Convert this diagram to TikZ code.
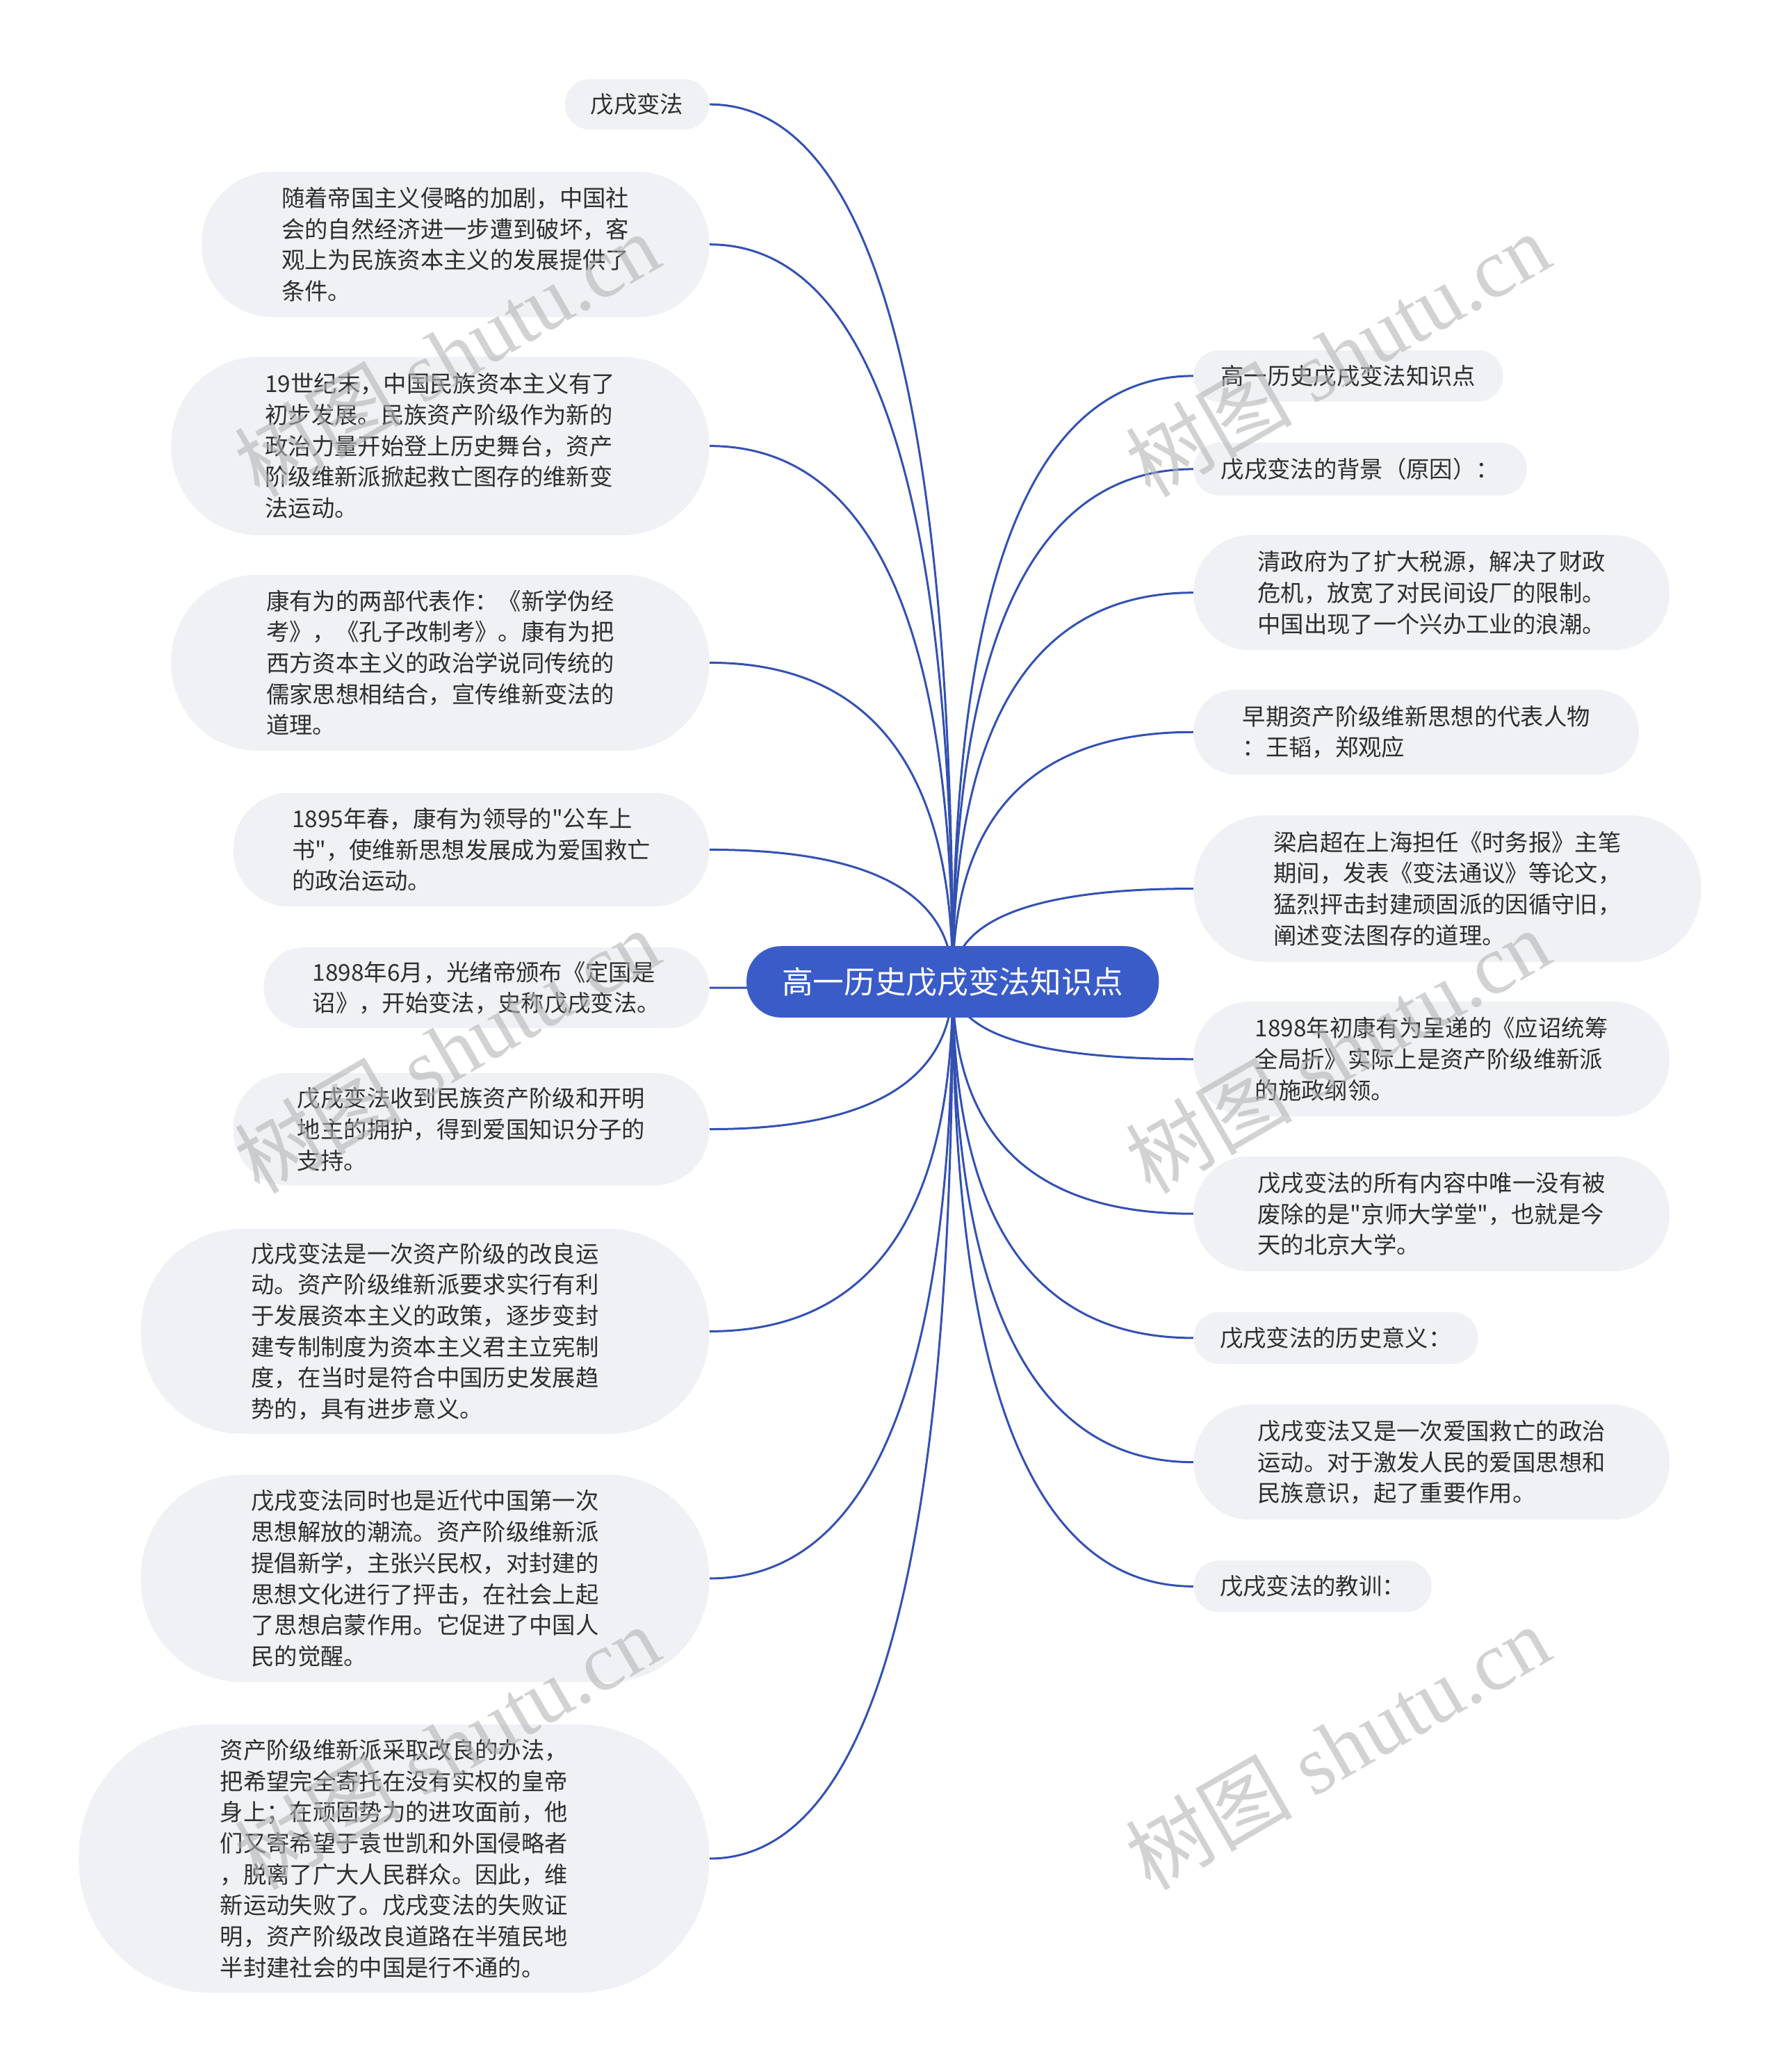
\documentclass[tikz,border=0pt]{standalone}
\usepackage{fontspec}
\newfontfamily\cjk{Noto Sans CJK SC}[Ligatures=TeXOff]
\newfontfamily\wmlat{Liberation Serif}
\usetikzlibrary{calc,backgrounds}
\definecolor{linkc}{HTML}{3451B2}
\definecolor{centc}{HTML}{3A5CC8}
\definecolor{nodebg}{HTML}{EFF1F4}
\definecolor{txtc}{HTML}{2E2E2E}
\definecolor{wmc}{HTML}{B4B4B4}
\def\myu{0.5702pt}
\tikzset{
  subnode/.style={fill=nodebg, text=txtc, inner sep=0pt, align=left,
    font=\cjk\fontsize{10pt}{13.4pt}\selectfont},
  centnode/.style={fill=centc, text=white, inner sep=0pt,
    font=\cjk\fontsize{13.4pt}{16pt}\selectfont},
  link/.style={draw=linkc, line width=0.9pt},
  wmark/.style={text=wmc, opacity=0.6, rotate=30, inner sep=0pt,
    font=\wmlat\fontsize{36pt}{36pt}\selectfont}
}
\newcommand\lnode[5]{\node[subnode, anchor=east,
  minimum width={(537-#2)*\myu}, minimum height={(#4-#3)*\myu},
  rounded corners={0.49*(#4-#3)*\myu}] (#1) at (537,{(#3+#4)/2}) {#5};}
\newcommand\rnode[5]{\node[subnode, anchor=west,
  minimum width={(#2-903)*\myu}, minimum height={(#4-#3)*\myu},
  rounded corners={0.49*(#4-#3)*\myu}] (#1) at (903,{(#3+#4)/2}) {#5};}
\newcommand\conn[1]{\draw[link] (C.center) .. controls ($(C.center)!0.6667!(C.center|-#1)$) and ($(#1)!0.6667!(C.center|-#1)$) .. (#1);}
\begin{document}
\begin{tikzpicture}[x=0.5702pt,y=-0.5702pt]
\useasboundingbox (0,0) rectangle (1347,1568);

\node[centnode, minimum width={312*\myu}, minimum height={54*\myu}, rounded corners={26*\myu}] (C) at (721,743) {高一历史戊戌变法知识点};

% left nodes
\lnode{L1}{428}{60}{98}{戊戌变法}
\lnode{L2}{153}{130}{240}{随着帝国主义侵略的加剧，中国社\\会的自然经济进一步遭到破坏，客\\观上为民族资本主义的发展提供了\\条件。}
\lnode{L3}{130}{270}{405}{19世纪末，中国民族资本主义有了\\初步发展。民族资产阶级作为新的\\政治力量开始登上历史舞台，资产\\阶级维新派掀起救亡图存的维新变\\法运动。}
\lnode{L4}{130}{435}{568}{康有为的两部代表作：《新学伪经\\考》，《孔子改制考》。康有为把\\西方资本主义的政治学说同传统的\\儒家思想相结合，宣传维新变法的\\道理。}
\lnode{L5}{177}{600}{686}{1895年春，康有为领导的"公车上\\书"，使维新思想发展成为爱国救亡\\的政治运动。}
\lnode{L6}{200}{717}{778}{1898年6月，光绪帝颁布《定国是\\诏》，开始变法，史称戊戌变法。}
\lnode{L7}{177}{812}{897}{戊戌变法收到民族资产阶级和开明\\地主的拥护，得到爱国知识分子的\\支持。}
\lnode{L8}{107}{930}{1085}{戊戌变法是一次资产阶级的改良运\\动。资产阶级维新派要求实行有利\\于发展资本主义的政策，逐步变封\\建专制制度为资本主义君主立宪制\\度，在当时是符合中国历史发展趋\\势的，具有进步意义。}
\lnode{L9}{107}{1116}{1273}{戊戌变法同时也是近代中国第一次\\思想解放的潮流。资产阶级维新派\\提倡新学，主张兴民权，对封建的\\思想文化进行了抨击，在社会上起\\了思想启蒙作用。它促进了中国人\\民的觉醒。}
\lnode{L10}{60}{1305}{1508}{资产阶级维新派采取改良的办法，\\把希望完全寄托在没有实权的皇帝\\身上；在顽固势力的进攻面前，他\\们又寄希望于袁世凯和外国侵略者\\，脱离了广大人民群众。因此，维\\新运动失败了。戊戌变法的失败证\\明，资产阶级改良道路在半殖民地\\半封建社会的中国是行不通的。}

% right nodes
\rnode{R1}{1137}{265}{304}{高一历史戊戌变法知识点}
\rnode{R2}{1155}{335}{375}{戊戌变法的背景（原因）：}
\rnode{R3}{1263}{405}{492}{清政府为了扩大税源，解决了财政\\危机，放宽了对民间设厂的限制。\\中国出现了一个兴办工业的浪潮。}
\rnode{R4}{1240}{522}{586}{早期资产阶级维新思想的代表人物\\：王韬，郑观应}
\rnode{R5}{1287}{617}{728}{梁启超在上海担任《时务报》主笔\\期间，发表《变法通议》等论文，\\猛烈抨击封建顽固派的因循守旧，\\阐述变法图存的道理。}
\rnode{R6}{1263}{758}{845}{1898年初康有为呈递的《应诏统筹\\全局折》实际上是资产阶级维新派\\的施政纲领。}
\rnode{R7}{1263}{875}{962}{戊戌变法的所有内容中唯一没有被\\废除的是"京师大学堂"，也就是今\\天的北京大学。}
\rnode{R8}{1118}{993}{1032}{戊戌变法的历史意义：}
\rnode{R9}{1263}{1063}{1150}{戊戌变法又是一次爱国救亡的政治\\运动。对于激发人民的爱国思想和\\民族意识，起了重要作用。}
\rnode{R10}{1083}{1181}{1220}{戊戌变法的教训：}

\begin{pgfonlayer}{background}
\fill[white] (0,0) rectangle (1347,1568);
\conn{L1.east}\conn{L2.east}\conn{L3.east}\conn{L4.east}\conn{L5.east}
\conn{L6.east}\conn{L7.east}\conn{L8.east}\conn{L9.east}\conn{L10.east}
\conn{R1.west}\conn{R2.west}\conn{R3.west}\conn{R4.west}\conn{R5.west}
\conn{R6.west}\conn{R7.west}\conn{R8.west}\conn{R9.west}\conn{R10.west}
\end{pgfonlayer}

% watermarks
\node[wmark] (W1) at (338,268) {{\cjk 树图} shutu.cn};
\node[wmark] (W2) at (1012,268) {{\cjk 树图} shutu.cn};
\node[wmark] (W3) at (338,795) {{\cjk 树图} shutu.cn};
\node[wmark] (W4) at (1012,795) {{\cjk 树图} shutu.cn};
\node[wmark] (W5) at (338,1322) {{\cjk 树图} shutu.cn};
\node[wmark] (W6) at (1012,1322) {{\cjk 树图} shutu.cn};
\end{tikzpicture}
\end{document}
